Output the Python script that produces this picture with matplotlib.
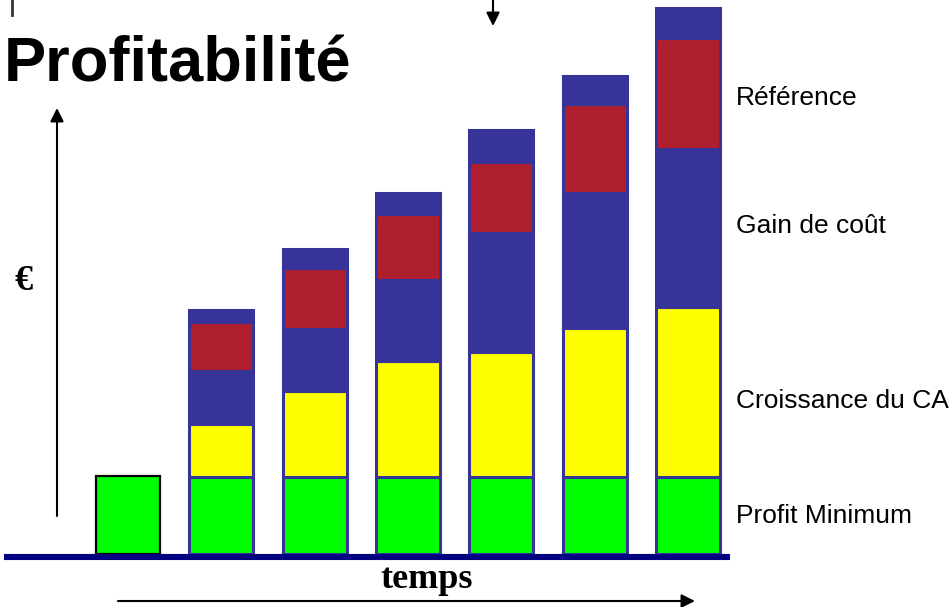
import matplotlib
matplotlib.use("Agg")
import matplotlib.pyplot as plt
import numpy as np

# ---- data (arbitrary units) ----
periods = ["P0", "P1", "P2", "P3", "P4", "P5", "P6"]
profit_minimum = [78, 77, 77, 77, 77, 77, 77]
croissance_ca = [0, 53, 86, 116, 125, 149, 170]
gain_cout = [0, 53, 62, 81, 119, 135, 158]
reference = [0, 49, 61, 66, 71, 89, 111]
sommet = [0, 12, 19, 21, 32, 28, 30]

labels = ["Référence", "Gain de coût", "Croissance du CA", "Profit Minimum"]

# ---- styles ----
W, H = 952, 607
GREEN, YELLOW, BLUE, RED = "#00FF00", "#FFFF00", "#363399", "#AF1F2E"
NAVY = "#000080"

def fp(x, y):
    """pixel (from top-left) -> figure fraction"""
    return (x / W, 1 - y / H)

fig = plt.figure(figsize=(W / 100, H / 100), dpi=100)
ax = fig.add_axes([7 / W, (H - 554) / H, 720 / W, 554 / H])
ax.set_xlim(-1.296, 6.418)
ax.set_ylim(0, 554)
ax.axis("off")

x = np.arange(len(periods))
width = 0.686

segments = [
    (profit_minimum, GREEN),
    (croissance_ca, YELLOW),
    (gain_cout, BLUE),
    (reference, RED),
    (sommet, BLUE),
]
bottom = np.zeros(len(periods))
for k, (vals, col) in enumerate(segments):
    vals = np.array(vals, dtype=float)
    edgecolors = []
    lws = []
    for i in range(len(periods)):
        if vals[i] == 0:
            edgecolors.append("none"); lws.append(0)
        elif i == 0:
            edgecolors.append("black"); lws.append(1.6)
        else:
            edgecolors.append(BLUE); lws.append(2.2)
    ax.bar(x, vals, width=width, bottom=bottom, color=col,
           edgecolor=edgecolors, linewidth=lws, zorder=2)
    bottom += vals

# baseline
ax.axhline(-3, color=NAVY, lw=4.4, clip_on=False, zorder=3)

# title
fig.text(*fp(4, 82), "Profitabilité", fontsize=45.5, fontweight="bold",
         family="Liberation Sans", ha="left", va="baseline")

# right labels
label_y = [105, 233, 408, 523]
for lab, yb in zip(labels, label_y):
    fig.text(*fp(736, yb), lab, fontsize=19, family="Liberation Sans",
             ha="left", va="baseline")

# euro sign
fig.text(*fp(24, 281), "€", fontsize=26, fontweight="bold",
         family="Liberation Serif", ha="center", va="center")

# temps
fig.text(*fp(427, 588), "temps", fontsize=26, fontweight="bold",
         family="Liberation Serif", ha="center", va="baseline")

# arrows
arrow_kw = dict(arrowstyle="-|>", color="black", lw=1.5,
                mutation_scale=20, shrinkA=0, shrinkB=0)
fig.add_artist(matplotlib.patches.FancyArrowPatch(
    fp(57, 516), fp(57, 108), transform=fig.transFigure, **arrow_kw))
fig.add_artist(matplotlib.patches.FancyArrowPatch(
    fp(118, 601), fp(695, 601), transform=fig.transFigure, **arrow_kw))
fig.add_artist(matplotlib.patches.FancyArrowPatch(
    fp(493, -2), fp(493, 26), transform=fig.transFigure, **arrow_kw))
fig.add_artist(matplotlib.lines.Line2D(
    [fp(12, 0)[0], fp(12, 15)[0]], [fp(12, 0)[1], fp(12, 15)[1]],
    transform=fig.transFigure, color="#333333", lw=2))

fig.savefig("out.png", dpi=100)
